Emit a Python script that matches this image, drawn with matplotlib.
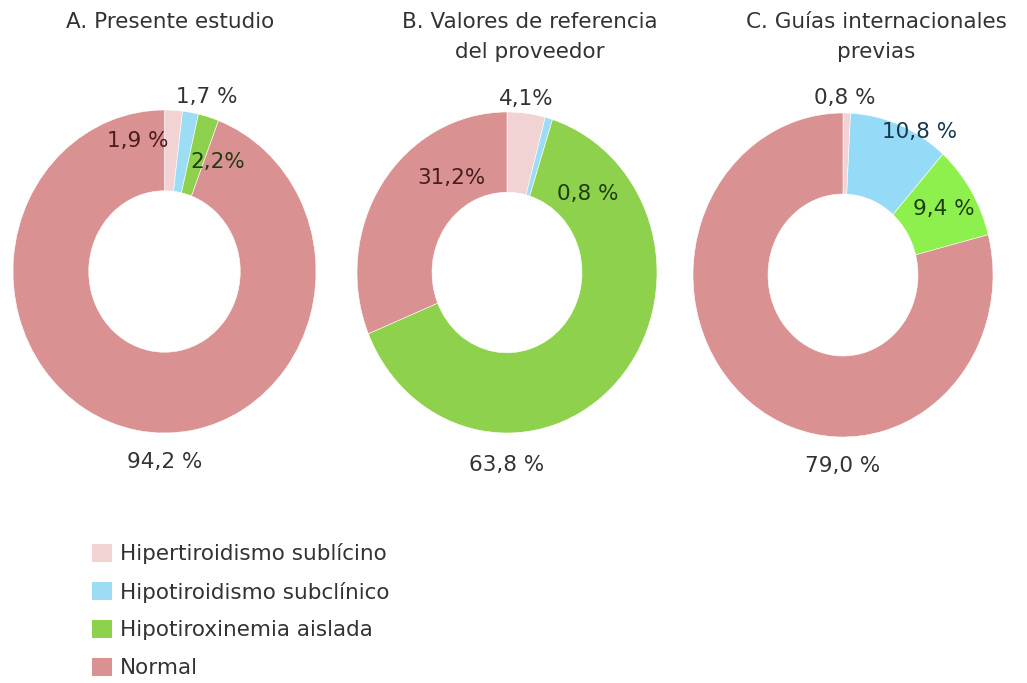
import numpy as np
import matplotlib
matplotlib.use("Agg")
import matplotlib.pyplot as plt
from matplotlib.patches import Patch

categories = [
    "Hipertiroidismo sublícino",
    "Hipotiroidismo subclínico",
    "Hipotiroxinemia aislada",
    "Normal",
]

titles = [
    "A. Presente estudio",
    "B. Valores de referencia\ndel proveedor",
    "C. Guías internacionales\nprevias",
]

# percentages per panel, in category order
values_a = [1.9, 1.7, 2.2, 94.2]
values_b = [4.1, 0.8, 63.8, 31.2]
values_c = [0.8, 10.8, 9.4, 79.0]

# label texts as printed on each panel
labels_a = ["1,9 %", "1,7 %", "2,2%", "94,2 %"]
labels_b = ["4,1%", "0,8 %", "63,8 %", "31,2%"]
labels_c = ["0,8 %", "10,8 %", "9,4 %", "79,0 %"]

colors_ab = ["#f2d3d3", "#9cdcf5", "#8ed14c", "#d99191"]
colors_c = ["#f2d3d3", "#95dbf8", "#8ef04c", "#d99191"]
text_colors = ["#4a1c1c", "#333333", "#1f3d10", "#333333"]
text_colors_c = ["#333333", "#17384a", "#1f3d10", "#333333"]

# label positions in data units relative to each donut
pos_a = [(-0.175, 0.81), (0.28, 1.08), (0.35, 0.68), (0.0, -1.18)]
pos_b = [(0.13, 1.08), (0.54, 0.49), (0.0, -1.20), (-0.37, 0.59)]
pos_c = [(0.01, 1.09), (0.51, 0.88), (0.67, 0.41), (0.0, -1.18)]
tcol_b = ["#333333", "#1f3d10", "#333333", "#4a1c1c"]

W, H = 1027, 683
fig = plt.figure(figsize=(W / 100, H / 100), dpi=100)
plt.rcParams["font.family"] = "DejaVu Sans"
fontsize = 15.5

# (left, top, width, height) of each donut in pixels
boxes = [(13, 110, 303, 323), (357, 112, 300, 321), (693, 113, 300, 324)]
title_x = [170, 530, 876]

panels = [
    (values_a, labels_a, colors_ab, pos_a, text_colors),
    (values_b, labels_b, colors_ab, pos_b, tcol_b),
    (values_c, labels_c, colors_c, pos_c, text_colors_c),
]

for i, (vals, labs, cols, pos, tcols) in enumerate(panels):
    l, t, w, h = boxes[i]
    ax = fig.add_axes([l / W, (H - t - h) / H, w / W, h / H])
    ax.pie(
        vals,
        colors=cols,
        startangle=90,
        counterclock=False,
        radius=1.0,
        wedgeprops=dict(width=0.5, edgecolor="white", linewidth=0.4),
    )
    ax.set_aspect("auto")
    ax.set_xlim(-1, 1)
    ax.set_ylim(-1, 1)
    ax.axis("off")
    for lab, (x, y), tc in zip(labs, pos, tcols):
        ax.text(x, y, lab, ha="center", va="center", fontsize=fontsize,
                color=tc, clip_on=False)
    fig.text(title_x[i] / W, 1 - 12 / H, titles[i], ha="center", va="top",
             fontsize=fontsize, color="#333333", linespacing=1.6)

handles = [Patch(facecolor=c, edgecolor="none") for c in colors_ab]
fig.legend(
    handles,
    categories,
    loc="upper left",
    bbox_to_anchor=(73 / W, 1 - 524 / H),
    frameon=False,
    fontsize=fontsize,
    handlelength=0.93,
    handleheight=0.93,
    handletextpad=0.37,
    labelspacing=0.8,
    labelcolor="#333333",
)

fig.savefig("out.png", dpi=100)
